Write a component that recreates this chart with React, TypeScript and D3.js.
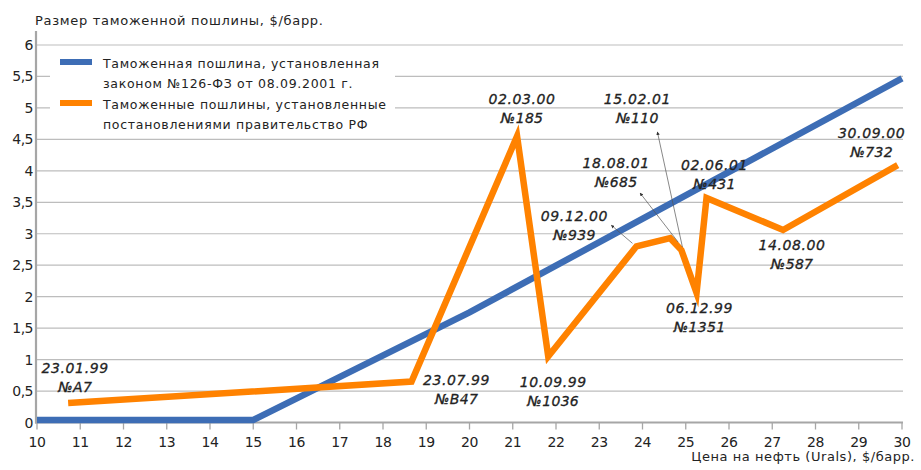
import React from "react";
import * as d3 from "d3";

// Oil price (Urals, $/bbl) on x, export duty ($/bbl) on y
const lawPrice = [10, 15, 20, 30];
const lawDuty = [0.04, 0.04, 1.75, 5.47];

const decreePrice = [10.72, 18.66, 21.1, 21.82, 23.86, 24.64, 24.9, 25.25, 25.48, 27.25, 29.9];
const decreeDuty = [0.31, 0.65, 4.55, 1.05, 2.8, 2.93, 2.74, 2.06, 3.57, 3.06, 4.09];
const decreeDate = ["23.01.99", "23.07.99", "02.03.00", "10.09.99", "09.12.00", "18.08.01", "15.02.01", "06.12.99", "02.06.01", "14.08.00", "30.09.00"];
const decreeNo = ["№А7", "№В47", "№185", "№1036", "№939", "№685", "№110", "№1351", "№431", "№587", "№732"];

const xTicks = d3.range(10, 31, 1);
const yTicks = d3.range(0, 6.01, 0.5);

const yTitle = "Размер таможенной пошлины, $/барр.";
const xTitle = "Цена на нефть (Urals), $/барр.";
const legendLaw = ["Таможенная пошлина, установленная", "законом №126-ФЗ от 08.09.2001 г."];
const legendDecree = ["Таможенные пошлины, установленные", "постановлениями правительство РФ"];

// label placement relative to each decree point (pixels): [dx, dy of first line]
const labelOffset: [number, number][] = [
  [7, -30], [45, 3], [5, -32], [5, 31], [-62, -25], [-54, -70], [-44, -146], [3, 20], [8, -28], [9, 20], [-26, -27],
];
// leader lines with arrow tip, for crowded labels: [index, x0, y0, x1, y1] relative to point
const leaders: [number, number, number, number, number][] = [
  [4, -4, -3, -25, -21],
  [5, 8, 4, -30, -45],
  [6, 1, -3, -24, -118],
];

const W = 921;
const H = 470;
const BLUE = "#3d6db5";
const ORANGE = "#ff8200";
const GRID = "#bdbdbd";
const AXIS = "#a6a6a6";
const TEXT = "#232323";
const FONT = "'DejaVu Sans', sans-serif";

export default function App() {
  const x = d3.scaleLinear().domain([10, 30]).range([37, 902]);
  const y = d3.scaleLinear().domain([0, 6]).range([422.5, 45]);
  const line = d3.line<[number, number]>().x((d) => x(d[0])).y((d) => y(d[1]));
  const lawPts = lawPrice.map((p, i) => [p, lawDuty[i]] as [number, number]);
  const decreePts = decreePrice.map((p, i) => [p, decreeDuty[i]] as [number, number]);

  return (
    <svg width={W} height={H} style={{ position: "absolute", left: 0, top: 0, background: "#fff" }} fontFamily={FONT}>
      <defs>
        <marker id="tip" viewBox="0 0 6 6" refX="5" refY="3" markerWidth="5" markerHeight="5" orient="auto">
          <path d="M0,0 L6,3 L0,6 z" fill="#333" />
        </marker>
      </defs>

      {/* grid */}
      {yTicks.filter((t) => t > 0).map((t) => (
        <line key={t} x1={x(10)} x2={903} y1={y(t)} y2={y(t)} stroke={GRID} strokeWidth={1.2} />
      ))}

      {/* axes */}
      <line x1={x(10) - 1} x2={x(10) - 1} y1={31} y2={y(0) + 1} stroke={AXIS} strokeWidth={2.2} />
      <line x1={x(10) - 2} x2={903} y1={y(0)} y2={y(0)} stroke={AXIS} strokeWidth={2.2} />
      {xTicks.map((t) => (
        <g key={t}>
          <line x1={x(t)} x2={x(t)} y1={y(0)} y2={y(0) + 7} stroke={AXIS} strokeWidth={1.3} />
          <text x={x(t)} y={447} textAnchor="middle" fontSize={14} fill={TEXT} letterSpacing={-0.5}>{t}</text>
        </g>
      ))}
      {yTicks.map((t) => (
        <text key={t} x={33} y={y(t) + 5} textAnchor="end" fontSize={14} fill={TEXT} letterSpacing={-0.5}>
          {String(t).replace(".", ",")}
        </text>
      ))}

      <text x={35} y={25} fontSize={13} fill={TEXT} letterSpacing={0.7}>{yTitle}</text>
      <text x={915} y={461} fontSize={13} fill={TEXT} textAnchor="end" letterSpacing={0.55}>{xTitle}</text>

      {/* legend */}
      <rect x={50} y={50} width={345} height={84} fill="#fff" />
      <line x1={60} x2={92} y1={62} y2={62} stroke={BLUE} strokeWidth={6} />
      <line x1={60} x2={92} y1={103} y2={103} stroke={ORANGE} strokeWidth={6} />
      {legendLaw.map((s, i) => (
        <text key={s} x={103} y={68 + i * 20} fontSize={12.5} fill={TEXT} letterSpacing={0.7}>{s}</text>
      ))}
      {legendDecree.map((s, i) => (
        <text key={s} x={103} y={109 + i * 20} fontSize={12.5} fill={TEXT} letterSpacing={0.7}>{s}</text>
      ))}

      {/* series */}
      <path d={line(lawPts) ?? ""} fill="none" stroke={BLUE} strokeWidth={6.5} strokeLinejoin="miter" />
      <path d={line(decreePts) ?? ""} fill="none" stroke={ORANGE} strokeWidth={6.5} strokeLinejoin="miter" strokeMiterlimit={10} />

      {/* leader lines */}
      {leaders.map(([i, x0, y0, x1, y1]) => {
        const px = x(decreePrice[i]);
        const py = y(decreeDuty[i]);
        return (
          <line key={i} x1={px + x0} y1={py + y0} x2={px + x1} y2={py + y1} stroke="#555" strokeWidth={0.7} markerEnd="url(#tip)" />
        );
      })}

      {/* decree labels */}
      {decreeDate.map((d, i) => {
        const px = x(decreePrice[i]) + labelOffset[i][0];
        const py = y(decreeDuty[i]) + labelOffset[i][1];
        return (
          <g key={d} fontStyle="italic" fontSize={14} fill={TEXT} stroke={TEXT} strokeWidth={0.3} textAnchor="middle">
            <text x={px} y={py} letterSpacing={0.6}>{d}</text>
            <text x={px} y={py + 19} letterSpacing={0.3}>{decreeNo[i]}</text>
          </g>
        );
      })}
    </svg>
  );
}
